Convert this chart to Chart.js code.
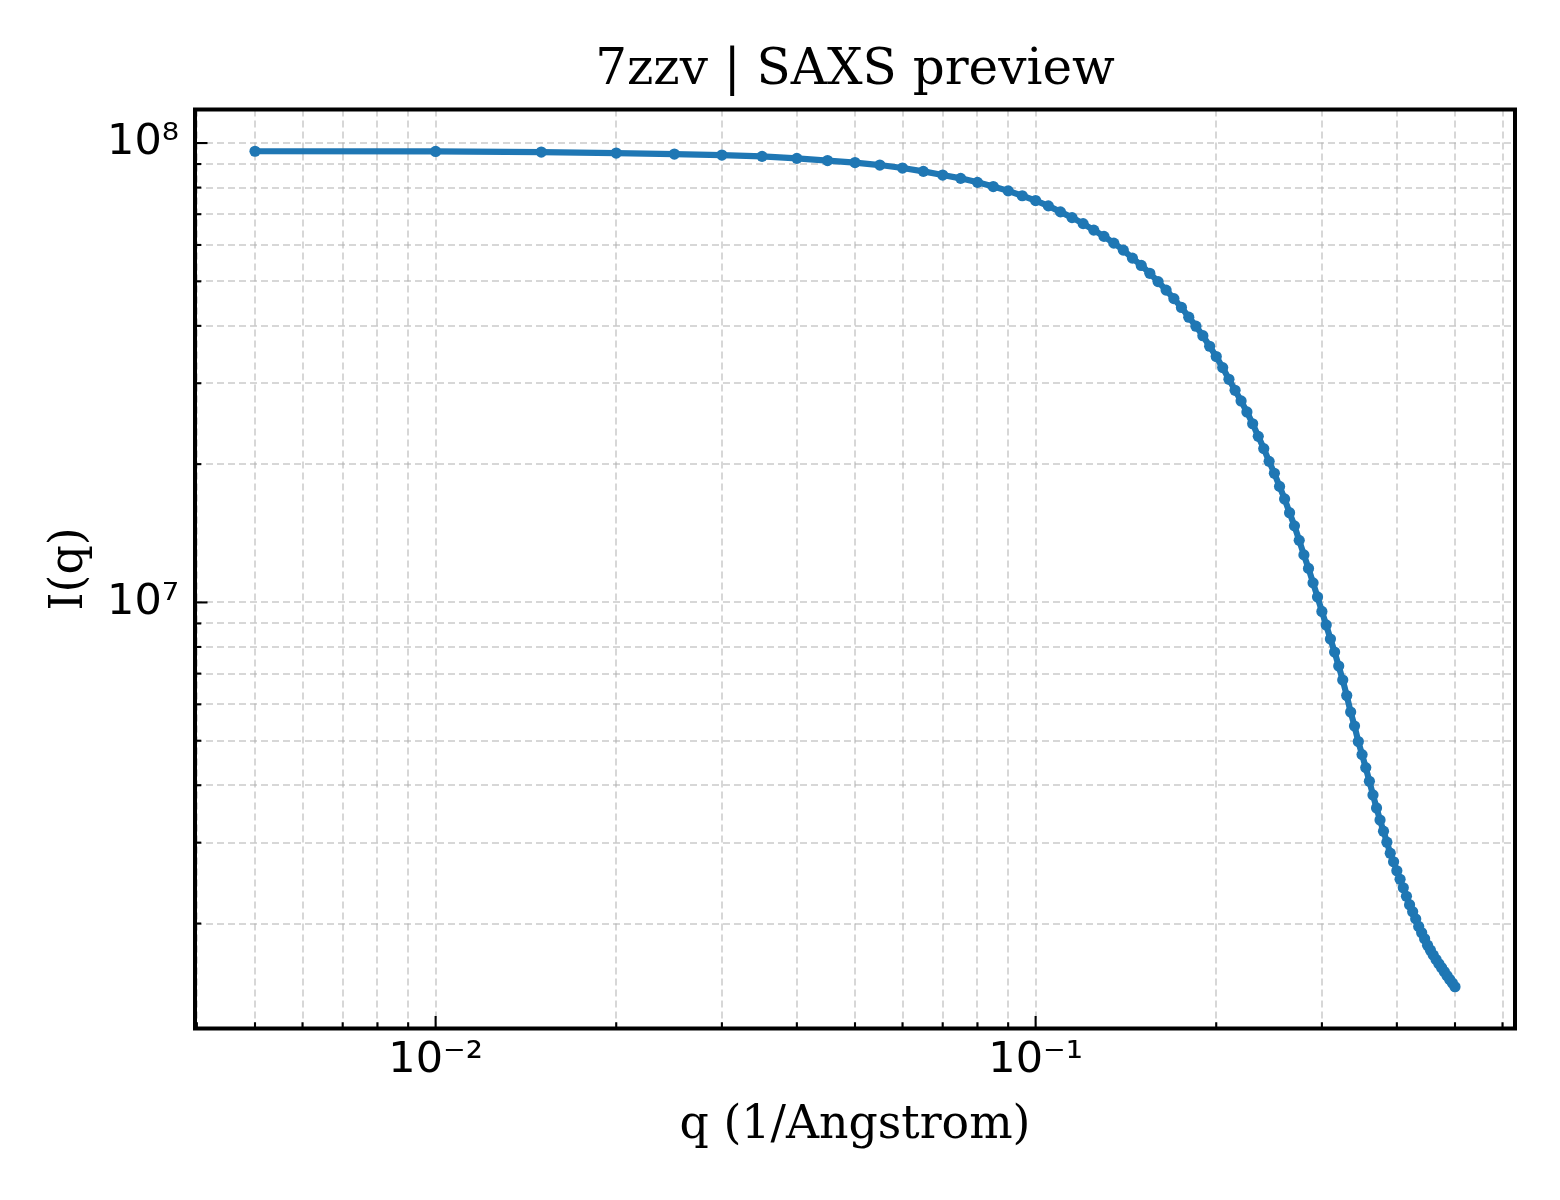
<!DOCTYPE html>
<html><head><meta charset="utf-8">
<script src="https://cdn.jsdelivr.net/npm/chart.js@4.4.1/dist/chart.umd.min.js"></script>
<style>html,body{margin:0;padding:0;background:#fff}canvas{display:block}</style>
</head><body>
<canvas id="c" width="1560" height="1200" style="width:1560px;height:1200px"></canvas>
<script>
// ---- data ----
const chartTitle = '7zzv | SAXS preview';
const xAxisTitle = 'q (1/Angstrom)';
const yAxisTitle = 'I(q)';

const qValues = [
  0.005, 0.010, 0.015, 0.020, 0.025, 0.030, 0.035, 0.040, 0.045, 0.050,
  0.055, 0.060, 0.065, 0.070, 0.075, 0.080, 0.085, 0.090, 0.095, 0.100,
  0.105, 0.110, 0.115, 0.120, 0.125, 0.130, 0.135, 0.140, 0.145, 0.150,
  0.155, 0.160, 0.165, 0.170, 0.175, 0.180, 0.185, 0.190, 0.195, 0.200,
  0.205, 0.210, 0.215, 0.220, 0.225, 0.230, 0.235, 0.240, 0.245, 0.250,
  0.255, 0.260, 0.265, 0.270, 0.275, 0.280, 0.285, 0.290, 0.295, 0.300,
  0.305, 0.310, 0.315, 0.320, 0.325, 0.330, 0.335, 0.340, 0.345, 0.350,
  0.355, 0.360, 0.365, 0.370, 0.375, 0.380, 0.385, 0.390, 0.395, 0.400,
  0.405, 0.410, 0.415, 0.420, 0.425, 0.430, 0.435, 0.440, 0.445, 0.450,
  0.455, 0.460, 0.465, 0.470, 0.475, 0.480, 0.485, 0.490, 0.495, 0.500
];

const intensity = [
  9.596e7, 9.587e7, 9.558e7, 9.510e7, 9.463e7, 9.415e7, 9.355e7, 9.261e7, 9.160e7, 9.069e7,
  8.956e7, 8.822e7, 8.677e7, 8.518e7, 8.378e7, 8.212e7, 8.041e7, 7.869e7, 7.678e7, 7.495e7,
  7.298e7, 7.082e7, 6.882e7, 6.678e7, 6.464e7, 6.263e7, 6.056e7, 5.847e7, 5.617e7, 5.415e7,
  5.205e7, 4.993e7, 4.785e7, 4.585e7, 4.386e7, 4.178e7, 3.993e7, 3.807e7, 3.611e7, 3.429e7,
  3.245e7, 3.060e7, 2.896e7, 2.745e7, 2.598e7, 2.449e7, 2.299e7, 2.162e7, 2.028e7, 1.910e7,
  1.789e7, 1.680e7, 1.568e7, 1.468e7, 1.365e7, 1.269e7, 1.186e7, 1.103e7, 1.028e7, 9.559e6,
  8.933e6, 8.326e6, 7.800e6, 7.270e6, 6.777e6, 6.270e6, 5.774e6, 5.382e6, 4.979e6, 4.664e6,
  4.370e6, 4.080e6, 3.810e6, 3.570e6, 3.360e6, 3.177e6, 3.007e6, 2.845e6, 2.726e6, 2.606e6,
  2.497e6, 2.393e6, 2.293e6, 2.198e6, 2.122e6, 2.047e6, 1.971e6, 1.910e6, 1.853e6, 1.794e6,
  1.750e6, 1.707e6, 1.670e6, 1.635e6, 1.603e6, 1.571e6, 1.540e6, 1.511e6, 1.484e6, 1.457e6
];

const xTickValues = [
  0.004, 0.005, 0.006, 0.007, 0.008, 0.009,
  0.01, 0.02, 0.03, 0.04, 0.05, 0.06, 0.07, 0.08, 0.09,
  0.1, 0.2, 0.3, 0.4, 0.5, 0.6
];
const yTickValues = [
  2e6, 3e6, 4e6, 5e6, 6e6, 7e6, 8e6, 9e6,
  1e7, 2e7, 3e7, 4e7, 5e7, 6e7, 7e7, 8e7, 9e7,
  1e8
];
const xTickLabels = { '-2': '10\u207B\u00B2', '-1': '10\u207B\u00B9' };
const yTickLabels = { '7': '10\u2077', '8': '10\u2078' };

// ---- helpers ----
const lg = Math.log10;
const isPow10 = v => Math.abs(lg(v) - Math.round(lg(v))) < 1e-9;
const labelFor = (map, v) => isPow10(v) ? (map[String(Math.round(lg(v)))] || '') : '';

// 5% margins in log space (matplotlib-like autoscale)
const xl0 = lg(Math.min(...qValues)), xl1 = lg(Math.max(...qValues));
const yl0 = lg(Math.min(...intensity)), yl1 = lg(Math.max(...intensity));
const xm = (xl1 - xl0) * 0.05, ym = (yl1 - yl0) * 0.05;

const GRID = 'rgba(176,176,176,0.5)';

const frameTicks = {
  id: 'frameTicks',
  afterDraw(chart) {
    const { ctx, chartArea: a, scales: { x, y } } = chart;
    ctx.save();
    ctx.strokeStyle = '#000';
    ctx.lineWidth = 2.1;
    ctx.lineCap = 'butt';
    x.ticks.forEach(t => {
      const px = x.getPixelForValue(t.value);
      const len = isPow10(t.value) ? 12.5 : 6.25;
      ctx.beginPath(); ctx.moveTo(px, a.bottom); ctx.lineTo(px, a.bottom - len); ctx.stroke();
    });
    y.ticks.forEach(t => {
      const py = y.getPixelForValue(t.value);
      const len = isPow10(t.value) ? 12.5 : 6.25;
      ctx.beginPath(); ctx.moveTo(a.left, py); ctx.lineTo(a.left + len, py); ctx.stroke();
    });
    ctx.lineWidth = 4;
    ctx.strokeRect(a.left, a.top, a.right - a.left, a.bottom - a.top);
    ctx.restore();
  }
};

new Chart(document.getElementById('c'), {
  type: 'line',
  data: {
    datasets: [{
      data: qValues.map((q, i) => ({ x: q, y: intensity[i] })),
      borderColor: '#1f77b4',
      backgroundColor: '#1f77b4',
      pointBackgroundColor: '#1f77b4',
      pointBorderWidth: 0,
      pointRadius: 5.6,
      borderWidth: 6.2,
      tension: 0,
      fill: false
    }]
  },
  options: {
    responsive: false,
    animation: false,
    devicePixelRatio: 1,
    layout: { padding: { left: 0, right: 45, top: 0, bottom: 0 } },
    plugins: {
      legend: { display: false },
      tooltip: { enabled: false },
      title: {
        display: true,
        fullSize: false,
        text: chartTitle,
        color: '#000',
        font: { family: 'DejaVu Serif', size: 50, weight: 'normal', lineHeight: 1.2 },
        padding: { top: 41, bottom: 8.5 }
      }
    },
    scales: {
      x: {
        type: 'logarithmic',
        position: 'bottom',
        min: Math.pow(10, xl0 - xm),
        max: Math.pow(10, xl1 + xm),
        afterBuildTicks: s => { s.ticks = xTickValues.map(v => ({ value: v })); },
        afterFit: s => { s.height = 171.5; },
        ticks: {
          callback: v => labelFor(xTickLabels, v),
          autoSkip: false, maxRotation: 0, minRotation: 0,
          padding: 6.5, color: '#000',
          font: { family: 'DejaVu Sans', size: 43, lineHeight: 1.2 }
        },
        grid: { color: GRID, lineWidth: 2, drawTicks: false },
        border: { display: false, dash: [7, 4] },
        title: {
          display: true, text: xAxisTitle, color: '#000',
          font: { family: 'DejaVu Serif', size: 45.8, lineHeight: 1.2 },
          padding: { top: 0, bottom: 46.5 }
        }
      },
      y: {
        type: 'logarithmic',
        position: 'left',
        min: Math.pow(10, yl0 - ym),
        max: Math.pow(10, yl1 + ym),
        afterBuildTicks: s => { s.ticks = yTickValues.map(v => ({ value: v })); },
        afterFit: s => { s.width = 195; },
        ticks: {
          callback: v => labelFor(yTickLabels, v),
          autoSkip: false,
          padding: 16, color: '#000',
          font: { family: 'DejaVu Sans', size: 43, lineHeight: 1.2 }
        },
        grid: { color: GRID, lineWidth: 2, drawTicks: false },
        border: { display: false, dash: [7, 4] },
        title: {
          display: true, text: yAxisTitle, color: '#000',
          font: { family: 'DejaVu Serif', size: 45.8, lineHeight: 1.2 },
          padding: { top: 42.5, bottom: 0 }
        }
      }
    }
  },
  plugins: [frameTicks]
});
</script>
</body></html>
